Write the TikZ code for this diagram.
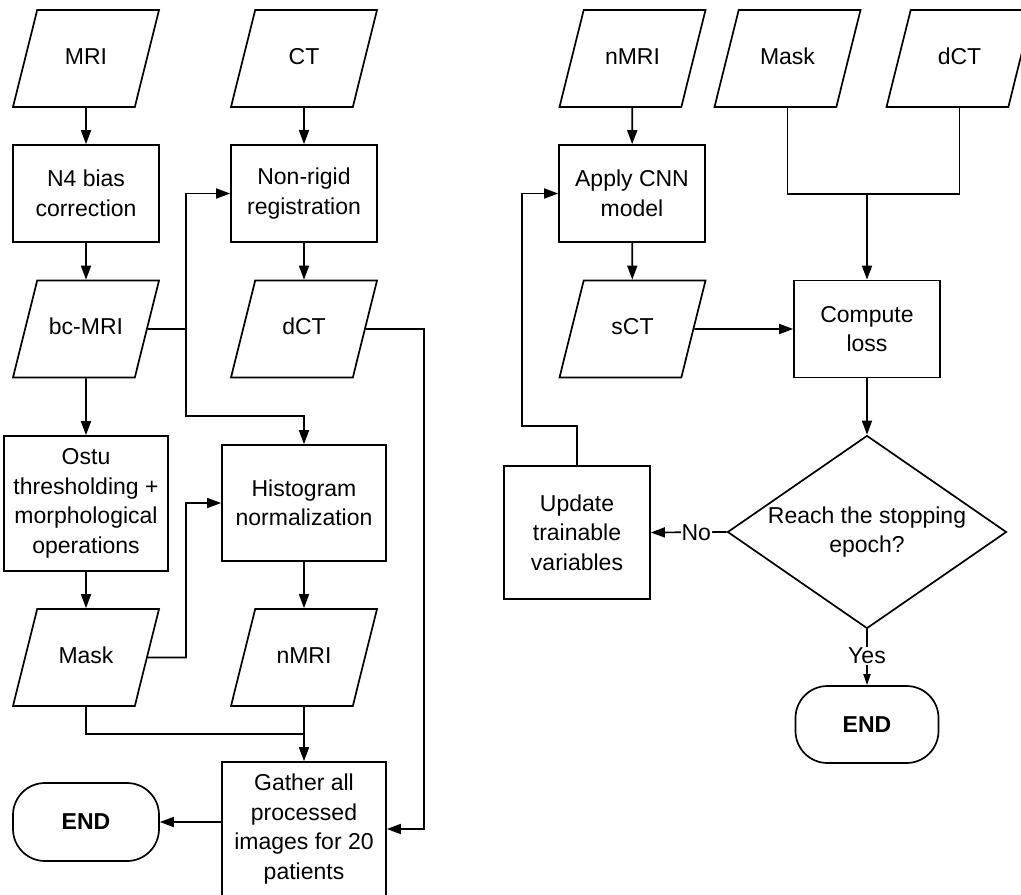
\documentclass[tikz,border=0pt]{standalone}
\usepackage{fontspec}
\setmainfont{Liberation Sans}
\usetikzlibrary{arrows.meta, positioning, shapes.geometric, calc}

\begin{document}
\begin{tikzpicture}[x=1pt, y=-1pt,
  every node/.style={font=\fontsize{23}{29.5}\selectfont},
  data/.style={draw, trapezium, trapezium left angle=76, trapezium right angle=104, trapezium stretches body, line width=1.7pt, minimum width=146pt, inner xsep=0pt, inner ysep=0pt, text height=54pt, text depth=43pt, align=center},
  process/.style={draw, rectangle, line width=1.7pt, minimum width=146pt, minimum height=97pt, inner sep=2pt, align=center},
  terminal/.style={draw, rectangle, rounded corners=32pt, line width=1.7pt, minimum width=146pt, minimum height=78pt, font=\fontsize{23}{29.5}\selectfont\bfseries},
  decision/.style={draw, diamond, line width=1.7pt, minimum width=279pt, minimum height=193pt, inner sep=0pt},
  line/.style={line width=1.7pt},
  arrow/.style={-{Triangle[length=14pt, width=10pt]}, line width=1.7pt},
  arrowsm/.style={-{Triangle[length=11pt, width=7pt]}, line width=1.7pt}
]
\fill[white] (0,0) rectangle (1021,895);
\useasboundingbox (0,0) rectangle (1021,895);

% Left: preprocessing, MRI branch
\node[data] (mri) at (86, 58.5) {MRI};
\node[process] (n4) at (86, 193.5) {N4 bias\\correction};
\node[data] (bcmri) at (86, 329) {bc-MRI};
\node[process, minimum width=164pt, minimum height=135pt] (otsu) at (86, 503.5) {Ostu\\thresholding +\\morphological\\operations};
\node[data] (maskL) at (86, 657.5) {Mask};
\node[terminal] (endL) at (86, 822) {END};

% Left: CT branch
\node[data] (ct) at (304, 58.5) {CT};
\node[process] (reg) at (304, 193.5) {Non-rigid\\registration};
\node[data] (dctL) at (304, 329) {dCT};
\node[process, minimum width=164pt, minimum height=116pt] (hist) at (304, 503) {Histogram\\normalization};
\node[data] (nmriL) at (304, 657.5) {nMRI};
\node[process, minimum width=164pt, minimum height=134pt] (gather) at (304, 829) {Gather all\\processed\\images for 20\\patients};

\coordinate (bcsplit) at (186, 329);
\coordinate (histin) at (304, 416);
\coordinate (maskout) at (186, 657.5);
\coordinate (gjoin) at (304, 734);
\coordinate (dctout) at (424, 329);

\draw[arrow] (mri) -- (n4);
\draw[arrow] (n4) -- (bcmri);
\draw[arrow] (bcmri) -- (otsu);
\draw[arrow] (otsu) -- (maskL);
\draw[arrow] (ct) -- (reg);
\draw[arrow] (reg) -- (dctL);
\draw[arrow] (hist) -- (nmriL);
\draw[line] (bcmri.east) -- (bcsplit);
\draw[arrow] (bcsplit) |- (reg.west);
\draw[arrow] (bcsplit) |- (histin) -- (hist.north);
\draw[arrow] (maskL.east) -- (maskout) |- (hist.west);
\draw[line] (maskL) |- (gjoin);
\draw[arrow] (nmriL) -- (gather);
\draw[arrow] (dctL.east) -- (dctout) |- (gather.east);
\draw[arrow] (gather.west |- endL.east) -- (endL.east);

% Right: training loop
\node[data] (nmriR) at (632.5, 58.5) {nMRI};
\node[data] (maskR) at (787.5, 58.5) {Mask};
\node[data] (dctR) at (959.5, 58.5) {dCT};
\node[process] (cnn) at (632, 193.5) {Apply CNN\\model};
\node[data] (sct) at (632.5, 329) {sCT};
\node[process] (loss) at (867, 329) {Compute\\loss};
\node[decision, label={[align=center]center:Reach the stopping\\epoch?}] (stop) at (867, 532) {};
\node[process, minimum height=133pt] (update) at (577, 532.5) {Update\\trainable\\variables};
\node[terminal, minimum width=143pt, minimum height=77pt] (endR) at (867, 724.5) {END};

\coordinate (lossin) at (867, 194);
\coordinate (fbk) at (522, 426);

\draw[arrow] (nmriR) -- (cnn);
\draw[arrow] (cnn) -- (sct);
\draw[arrow] (sct.east) -- (loss.west);
\draw[line] (maskR) |- (lossin) -| (dctR);
\draw[arrow] (lossin) -- (loss);
\draw[arrow] (loss) -- (stop);
\draw[arrow] (stop.west) -- node[pos=0.4, fill=white, inner sep=1pt] {No} (update.east);
\draw[arrowsm] (stop.south) -- node[pos=0.47, fill=white, inner sep=1pt] {Yes} (endR.north);
\draw[arrow] (update) |- (fbk) |- (cnn.west);

\end{tikzpicture}
\end{document}
